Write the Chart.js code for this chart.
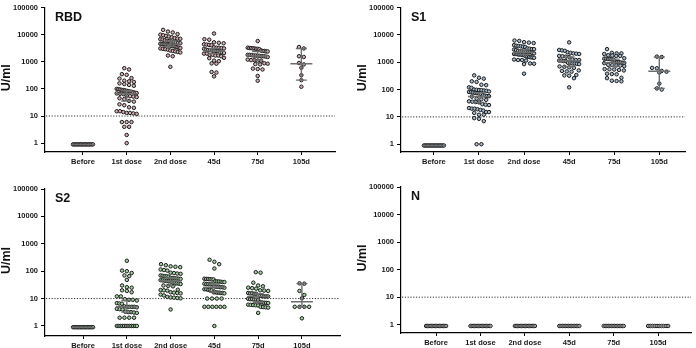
<!DOCTYPE html>
<html><head><meta charset="utf-8">
<script src="https://cdn.jsdelivr.net/npm/chart.js@4.4.1/dist/chart.umd.min.js"></script>
<style>
html,body{margin:0;padding:0;background:#fff;}
#wrap{position:relative;width:696px;height:348px;overflow:hidden;background:#fff;}
canvas{position:absolute;}
</style></head><body>
<div id="wrap">
<canvas id="c1" width="348" height="174" style="left:0;top:0"></canvas>
<canvas id="c2" width="348" height="174" style="left:348px;top:0"></canvas>
<canvas id="c3" width="348" height="174" style="left:0;top:174px"></canvas>
<canvas id="c4" width="348" height="174" style="left:348px;top:174px"></canvas>
</div>
<script>
// ---------- DATA ----------
const categories = ['Before', '1st dose', '2nd dose', '45d', '75d', '105d'];
const yTickValues = [1, 10, 100, 1000, 10000, 100000];
const yTickLabels = ['1', '10', '100', '1000', '10000', '100000'];
const cutoffValue = 10;
const panelNames = ['RBD', 'S1', 'S2', 'N'];
const yAxisTitle = 'U/ml';

// RBD
const rbdBefore = [0.9,0.9,0.9,0.9,0.9,0.9,0.9,0.9,0.9,0.9,0.9,0.9,0.9,0.9,0.9,0.9];
const rbdDose1 = [580,520,350,330,250,240,200,190,180,160,150,140,130,
  100,98,95,92,90,88,85,82,80,78,75,72,70,68,66,64,56,54,52,50,45,42,36,34,27,25,21,20,
  15,15,14,13,13,12.5,12,6,6,6,4,4,2,1];
const rbdDose2 = [15000,13000,12000,10500,10000,9500,9000,8500,8000,7500,7200,7000,6800,6600,
  6200,6000,5800,5600,5400,5200,5000,4800,4600,4500,4400,4300,4200,4100,4000,3900,3800,3700,
  3500,3400,3300,3200,3100,3000,2900,2800,2600,2500,2400,2300,2200,1700,1600,650];
const rbd45d = [11000,6800,6500,5200,5000,4800,4400,4300,4200,4100,3400,3300,3300,3200,3100,3000,
  2800,2700,2700,2600,2500,2500,2400,2200,2200,2100,2000,2000,1800,1800,1700,1700,1600,
  1400,1350,1100,1050,870,850,420,400,290];
const rbd75d = [5800,3300,3200,3200,3100,3100,3000,3000,2900,2600,2500,2500,2400,2400,
  1800,1800,1750,1700,1700,1650,1650,1600,1600,1550,1500,1200,1150,1150,1100,1100,
  880,850,820,800,560,540,520,300,200];
const rbd105d = [3500,3100,1600,1500,900,800,600,320,210,120];

// S1
const s1Before = [0.9,0.9,0.9,0.9,0.9,0.9,0.9,0.9,0.9,0.9,0.9,0.9,0.9,0.9,0.9,0.9];
const s1Dose1 = [330,270,250,200,190,150,145,120,115,100,98,96,95,92,90,85,82,80,78,76,74,72,70,
  62,60,58,57,55,46,44,42,37,36,35,34,29,28,27,21,20,20,19,18,17,15,15,14,12,12,9,8.5,7,1,1];
const s1Dose2 = [6200,6000,5400,5200,5000,4200,4000,3900,3800,3700,3600,3200,3100,3000,3000,2900,2800,
  2600,2500,2500,2400,2400,2300,2300,2200,2100,2000,2000,1950,1900,1900,1850,1800,
  1650,1600,1550,1500,1500,1450,1250,1200,1200,1150,900,880,850,380];
const s145d = [5300,2800,2700,2600,2300,2200,2100,2050,2000,1700,1650,1600,1550,
  1250,1200,1200,1150,1150,1100,1100,950,930,900,900,880,850,700,680,650,620,
  500,480,460,450,340,330,320,260,120];
const s175d = [3000,2200,2100,2100,2000,1800,1750,1700,1700,1400,1350,1350,1300,1300,1250,1250,
  1050,1000,1000,980,950,950,920,800,780,760,750,720,560,550,540,520,500,380,370,360,270,260,210,205,200];
const s1105d = [1600,1550,620,600,480,450,420,165,110,100];

// S2
const s2Before = [0.9,0.9,0.9,0.9,0.9,0.9,0.9,0.9,0.9,0.9,0.9,0.9,0.9,0.9,0.9,0.9];
const s2Dose1 = [240,105,100,86,70,66,48,30,26,25,20,19,17,12,12,9.5,9,9,8.5,6.8,6.6,6.5,
  5.2,5,5,5,5,4.8,4.2,4.1,4,3.3,3.2,3.2,3.1,3,2,2,2,2,1,1,1,1,1,1,1,1,1,1,1,1];
const s2Dose2 = [180,165,150,145,140,115,110,105,88,85,82,80,70,68,66,65,63,57,56,55,54,53,52,
  47,46,45,44,43,42,38,37,36,35,34,30,29,28,21,20.5,20,19.5,17,16.5,16,15.5,14,13,
  11.5,11,10.8,10.5,10.2,4];
const s245d = [260,220,180,125,53,52,52,51,50,50,43,42,42,41,40,40,35,34,34,33,33,
  28,27,27,26,26,25,22,22,21,21,20,17,17,16.5,16.5,16,16,15.5,10,10,10,10,5,5,5,5,5,5,1];
const s275d = [92,88,38,30,28,25,24,23,20,19.5,19,16,15.5,15.5,15,15,13,12.5,12.5,12,12,12,
  9.8,9.5,9.5,9.3,9.2,9,7.3,7.2,7,7,6.9,6,5.9,5.8,5.7,5.6,5,4.9,4.8,4.7,3];
const s2105d = [36,35,19,13.5,10.3,5,5,5,5,1.9];

// N
const nBefore = [0.9,0.9,0.9,0.9,0.9,0.9,0.9,0.9,0.9,0.9,0.9,0.9,0.9,0.9,0.9,0.9];
const nDose1 = [0.9,0.9,0.9,0.9,0.9,0.9,0.9,0.9,0.9,0.9,0.9,0.9,0.9,0.9,0.9,0.9];
const nDose2 = [0.9,0.9,0.9,0.9,0.9,0.9,0.9,0.9,0.9,0.9,0.9,0.9,0.9,0.9,0.9,0.9];
const n45d = [0.9,0.9,0.9,0.9,0.9,0.9,0.9,0.9,0.9,0.9,0.9,0.9,0.9,0.9];
const n75d = [0.9,0.9,0.9,0.9,0.9,0.9,0.9,0.9,0.9,0.9,0.9,0.9,0.9,0.9];
const n105d = [0.9,0.9,0.9,0.9,0.9,0.9,0.9,0.9,0.9,0.9];

// ---------- RENDERING ----------
const FONT = "'Liberation Sans', Arial, Helvetica, sans-serif";
const DOT_STEP = 4.8, ROW_H = 4.4, MAX_W = 20;

function swarm(groups, pxUnit, pxDecade) {
  const pts = [];
  groups.forEach((vals, gi) => {
    const sorted = vals.slice().sort((a, b) => b - a);
    const rows = []; let cur = null;
    sorted.forEach(v => {
      const ly = Math.log10(v) * pxDecade;
      if (!cur || cur.start - ly > ROW_H) { cur = { start: ly, vals: [] }; rows.push(cur); }
      cur.vals.push(v);
    });
    rows.forEach(r => {
      const n = r.vals.length;
      const sp = n > 1 ? Math.min(DOT_STEP, MAX_W / (n - 1)) : 0;
      r.vals.forEach((v, i) => pts.push({ x: gi + (i - (n - 1) / 2) * sp / pxUnit, y: v }));
    });
  });
  return pts;
}

function stats(vals) {
  const s = vals.slice().sort((a, b) => a - b);
  const n = s.length;
  const med = n % 2 ? s[(n - 1) / 2] : (s[n / 2 - 1] + s[n / 2]) / 2;
  const j = Math.max(1, Math.round(n / 2 - 0.98 * Math.sqrt(n)));
  const k = n + 1 - j;
  return { med, lo: s[j - 1], hi: s[k - 1] };
}

const overlay = {
  id: 'overlay',
  beforeDatasetsDraw(chart) {
    const { ctx, chartArea: a, scales: { y } } = chart;
    const yy = y.getPixelForValue(cutoffValue);
    ctx.save();
    ctx.strokeStyle = '#333';
    ctx.lineWidth = 1;
    ctx.setLineDash([1.2, 1.6]);
    ctx.beginPath(); ctx.moveTo(a.left + 1, yy); ctx.lineTo(a.right, yy); ctx.stroke();
    ctx.restore();
  },
  afterDatasetsDraw(chart) {
    const { ctx, chartArea: a, scales: { x, y } } = chart;
    const p = chart.options.plugins.overlay;
    ctx.save();
    ctx.strokeStyle = '#6e6e6e';
    ctx.lineWidth = 1.4;
    p.groups.forEach((vals, gi) => {
      const st = stats(vals);
      const cx = x.getPixelForValue(gi);
      const ym = y.getPixelForValue(st.med), yl = y.getPixelForValue(st.lo), yh = y.getPixelForValue(st.hi);
      ctx.beginPath();
      ctx.moveTo(cx, yh); ctx.lineTo(cx, yl);
      ctx.moveTo(cx - 11, ym); ctx.lineTo(cx + 11, ym);
      ctx.moveTo(cx - 5.5, yh); ctx.lineTo(cx + 5.5, yh);
      ctx.moveTo(cx - 5.5, yl); ctx.lineTo(cx + 5.5, yl);
      ctx.stroke();
    });
    // panel title
    ctx.fillStyle = '#111';
    ctx.font = 'bold 12.5px ' + FONT;
    ctx.textBaseline = 'middle';
    ctx.textAlign = 'left';
    ctx.fillText(p.name, a.left + 10, a.top + 10);
    // y axis title
    ctx.save();
    ctx.translate(a.left - 38, (a.top + a.bottom) / 2 - 2);
    ctx.rotate(-Math.PI / 2);
    ctx.textAlign = 'center';
    ctx.font = 'bold 12.5px ' + FONT;
    ctx.fillText(yAxisTitle, 0, 0);
    ctx.restore();
    ctx.restore();
  }
};

function makePanel(cfg) {
  const pts = swarm(cfg.groups, cfg.pxUnit, cfg.pxDecade);
  new Chart(document.getElementById(cfg.canvas), {
    type: 'scatter',
    data: { datasets: [{
      data: pts,
      pointRadius: 1.75,
      pointBorderWidth: 1,
      pointBackgroundColor: cfg.fill,
      pointBorderColor: '#1c1c1c',
      clip: false
    }] },
    options: {
      responsive: false, animation: false, devicePixelRatio: 1, events: [],
      layout: { padding: { left: 0, top: cfg.top, right: 348 - cfg.right, bottom: 0 } },
      plugins: { legend: { display: false }, tooltip: { enabled: false },
        overlay: { groups: cfg.groups, name: cfg.name } },
      scales: {
        x: {
          type: 'linear', min: cfg.xMin, max: cfg.xMax,
          afterBuildTicks: s => { s.ticks = categories.map((c, i) => ({ value: i })); },
          afterFit: s => { s.height = 174 - cfg.bottom; },
          ticks: { callback: v => categories[v], color: '#1a1a1a', padding: 2, maxRotation: 0, autoSkip: false,
            font: { family: FONT, size: 7.5, weight: 'bold' } },
          grid: { drawOnChartArea: false, drawTicks: true, tickLength: 3, color: '#000', lineWidth: 1 },
          border: { color: '#000', width: 1.2 }
        },
        y: {
          type: 'logarithmic', min: cfg.yMin, max: 100000,
          afterBuildTicks: s => { s.ticks = yTickValues.map(v => ({ value: v })); },
          afterFit: s => { s.width = cfg.left; },
          ticks: { callback: (v) => yTickLabels[yTickValues.indexOf(v)], color: '#1a1a1a', padding: 3,
            font: { family: FONT, size: 7.5, weight: 'bold' } },
          grid: { drawOnChartArea: false, drawTicks: true, tickLength: 4, color: '#000', lineWidth: 1 },
          border: { color: '#000', width: 1.2 }
        }
      }
    },
    plugins: [overlay]
  });
}

makePanel({ canvas: 'c1', name: panelNames[0], fill: '#d0aeb0',
  groups: [rbdBefore, rbdDose1, rbdDose2, rbd45d, rbd75d, rbd105d],
  left: 45, right: 335, top: 5, bottom: 152, xMin: -0.87, xMax: 5.77, yMin: 0.472, pxUnit: 43.7, pxDecade: 27.6 });
makePanel({ canvas: 'c2', name: panelNames[1], fill: '#a6b9cc',
  groups: [s1Before, s1Dose1, s1Dose2, s145d, s175d, s1105d],
  left: 53, right: 337, top: 5, bottom: 152, xMin: -0.73, xMax: 5.57, yMin: 0.52, pxUnit: 45.1, pxDecade: 27.8 });
makePanel({ canvas: 'c3', name: panelNames[2], fill: '#a3cca3',
  groups: [s2Before, s2Dose1, s2Dose2, s245d, s275d, s2105d],
  left: 45, right: 340, top: 15, bottom: 162, xMin: -0.87, xMax: 5.87, yMin: 0.43, pxUnit: 43.8, pxDecade: 27.4 });
makePanel({ canvas: 'c4', name: panelNames[3], fill: '#ffffff',
  groups: [nBefore, nDose1, nDose2, n45d, n75d, n105d],
  left: 53, right: 343, top: 13, bottom: 159, xMin: -0.79, xMax: 5.74, yMin: 0.5, pxUnit: 44.4, pxDecade: 27.6 });
</script>
</body></html>
